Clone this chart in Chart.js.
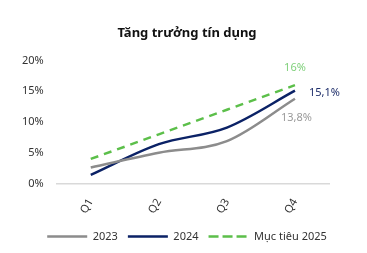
<!DOCTYPE html>
<html>
<head>
<meta charset="utf-8">
<script src="https://cdn.jsdelivr.net/npm/chart.js@4"></script>
<style>
  html, body { margin: 0; padding: 0; background: #fff; }
  #wrap { width: 367px; height: 253px; }
</style>
</head>
<body>
<div id="wrap"><canvas id="chartTD"></canvas></div>
<script>
const quarters = ["Q1", "Q2", "Q3", "Q4"];
const data2023 = [2.6, 5.0, 6.9, 13.8];
const data2024 = [1.4, 6.4, 9.1, 15.1];
const target2025 = [4, 8, 12, 16];
const endLabels = ["13,8%", "15,1%", "16%"];

// draws the value label at the last point of each line
const endLabelPlugin = {
  id: "endLabel",
  afterDatasetsDraw(chart) {
    const ctx = chart.ctx;
    const cfg = [
      { color: "#9a9a9a", dx: -14, dy: 19, align: "left" },
      { color: "#1f2f6b", dx: 14, dy: 2, align: "left" },
      { color: "#7fd07a", dx: 0, dy: -17, align: "center" },
    ];
    ctx.save();
    ctx.font = "11px 'Noto Sans'";
    ctx.textBaseline = "middle";
    chart.data.datasets.forEach(function (ds, i) {
      const meta = chart.getDatasetMeta(i);
      const pt = meta.data[meta.data.length - 1];
      ctx.fillStyle = cfg[i].color;
      ctx.textAlign = cfg[i].align;
      ctx.fillText(endLabels[i], pt.x + cfg[i].dx, pt.y + cfg[i].dy);
    });
    ctx.restore();
  },
};

var contextTD = document.getElementById("chartTD").getContext("2d");
var myChartTD = new Chart(contextTD, {
  type: "line",
  data: {
    labels: quarters,
    datasets: [
      {
        label: "2023",
        data: data2023,
        borderColor: "#8c8c8c",
        borderWidth: 2.5,
        pointRadius: 0,
        cubicInterpolationMode: "monotone",
      },
      {
        label: "2024",
        data: data2024,
        borderColor: "#0b2266",
        borderWidth: 2.5,
        pointRadius: 0,
        cubicInterpolationMode: "monotone",
      },
      {
        label: "Mục tiêu 2025",
        data: target2025,
        borderColor: "#5cbf4a",
        borderWidth: 2.5,
        borderDash: [8, 6],
        pointRadius: 0,
      },
    ],
  },
  options: {
    responsive: true,
    maintainAspectRatio: false,
    animation: false,
    layout: { padding: { left: 17, right: 10, top: 8, bottom: 1 } },
    plugins: {
      title: {
        display: true,
        text: "Tăng trưởng tín dụng",
        color: "#111",
        font: { family: "'Noto Sans'", size: 13, weight: "bold" },
        padding: { top: 17, bottom: 20 },
      },
      legend: {
        position: "bottom",
        labels: {
          boxWidth: 40,
          boxHeight: 0,
          color: "#333",
          font: { family: "'Noto Sans'", size: 11 },
          padding: 10,
        },
      },
      tooltip: { enabled: false },
    },
    scales: {
      x: {
        offset: true,
        grid: { display: false },
        border: { color: "#d9d9d9", width: 1.5 },
        ticks: {
          color: "#333",
          font: { family: "'Noto Sans'", size: 11 },
          minRotation: 60,
          maxRotation: 60,
          padding: 5,
        },
      },
      y: {
        min: 0,
        max: 20,
        grid: { display: false },
        border: { display: false },
        ticks: {
          stepSize: 5,
          color: "#333",
          font: { family: "'Noto Sans'", size: 11 },
          padding: 5,
          callback: function (v) { return v + "%"; },
        },
      },
      yRight: {
        position: "right",
        grid: { display: false },
        border: { display: false },
        ticks: { display: false },
        afterFit: function (scale) { scale.width = 28; },
      },
    },
  },
  plugins: [endLabelPlugin],
});
</script>
</body>
</html>
